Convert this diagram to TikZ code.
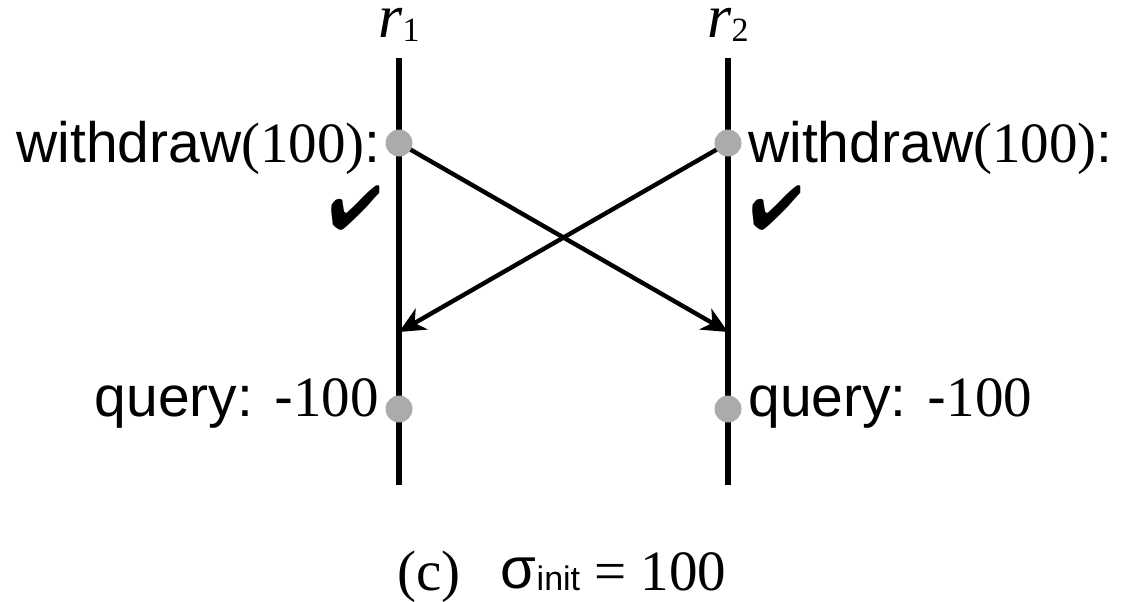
\documentclass[tikz,border=0pt]{standalone}
\usepackage{fontspec}
\setmainfont{Liberation Serif}
\setsansfont{Liberation Sans}
\usepackage{pifont}
\usetikzlibrary{positioning,arrows.meta}

\begin{document}
\begin{tikzpicture}[x=0.5pt,y=-0.5pt,font=\fontsize{28.5pt}{34pt}\selectfont,
      proc/.style={line width=2.8pt},
      ev/.style={circle,fill=black!33,minimum size=13.5pt,inner sep=0pt},
      msg/.style={-{Stealth[length=13pt,width=12pt,inset=4pt]},line width=2.2pt},
      lbl/.style={inner sep=1pt},
      ok/.style={inner sep=0pt,font=\fontsize{31pt}{34pt}\selectfont}]
      \useasboundingbox (0,0) rectangle (1128,601);
      % process lines
      \coordinate (t1) at (399,58);  \coordinate (b1) at (399,485);
      \coordinate (t2) at (728,58);  \coordinate (b2) at (728,485);
      \coordinate (e1) at (399,143); \coordinate (e2) at (728,143);
      \coordinate (f1) at (399,409); \coordinate (f2) at (728,409);
      \coordinate (a1) at (399,332); \coordinate (a2) at (728,332);
      \draw[proc] (t1) -- (b1); \draw[proc] (t2) -- (b2);
      \draw[msg] (e1) -- (a2); \draw[msg] (e2) -- (a1);
      % events
      \node[ev] (w1) at (e1) {}; \node[ev] (w2) at (e2) {};
      \node[ev] (q1) at (f1) {}; \node[ev] (q2) at (f2) {};
      \node[lbl,above=7pt of t1] (r1) {\fontsize{31pt}{34pt}\selectfont\textit{r}\raisebox{-2pt}{\fontsize{17pt}{18pt}\selectfont 1}};
      \node[lbl,above=7pt of t2] (r2) {\fontsize{31pt}{34pt}\selectfont\textit{r}\raisebox{-2pt}{\fontsize{17pt}{18pt}\selectfont 2}};
      \node[lbl,left=1pt of w1,yshift=-2.5pt] (wl1) {\textsf{withdraw}(100)\textsf{:}};
      \node[lbl,right=2pt of w2,yshift=-2.5pt] (wl2) {\textsf{withdraw}(100)\textsf{:}};
      \node[lbl,left=2pt of q1,yshift=3pt] (ql1) {\textsf{query: -}100};
      \node[lbl,right=2pt of q2,yshift=3pt] (ql2) {\textsf{query: -}100};
      \node[ok] (c1) at (356,208) {\ding{52}};
      \node[ok] (c2) at (777,208) {\ding{52}};
      % caption
      \node (cap) at (562,577) {(c)\hspace{20pt}\raisebox{1pt}{\fontsize{29pt}{30pt}\selectfont\sffamily σ}{\fontsize{17pt}{18pt}\selectfont\sffamily init}\textrm{ = 100}};
    \end{tikzpicture}
\end{document}
